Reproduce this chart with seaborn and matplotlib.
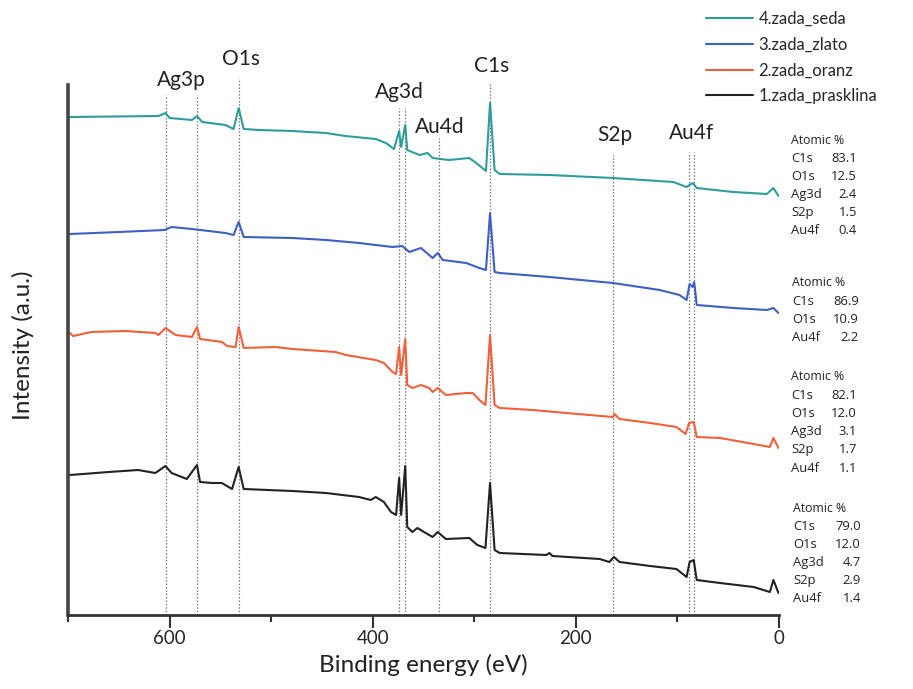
import matplotlib
matplotlib.use("Agg")
import matplotlib.pyplot as plt
import numpy as np
import pandas as pd
import seaborn as sns
from matplotlib.ticker import MultipleLocator

# ---------------- data (binding energy in eV, intensity in a.u.) ----------------
seda_energy = [698, 611, 604, 600, 578, 573, 568, 545, 537, 532, 527, 512, 480, 446, 427, 397,
               387, 379, 374, 372, 368, 366, 354, 346, 341, 325, 305, 298, 288.5, 284.5, 280,
               275, 226, 163.5, 104, 91, 85, 81, 45, 12, 5.5, 0.5]
seda_intensity = [498, 499, 502, 497, 495, 499, 493, 490, 486, 507, 486, 485, 484, 482, 479, 476,
                  472, 466, 484, 468, 490, 465, 460, 462, 457, 455, 457, 452, 444, 512, 445,
                  441, 440, 437, 433, 428, 432, 427, 423, 421, 427, 419]

zlato_energy = [698, 650, 605, 598, 578, 545, 537, 532, 527, 479, 446, 413.5, 380.5, 371, 364,
                352.5, 341, 336, 331, 308, 295, 288.5, 284.5, 280, 275, 226, 163.5, 117.5, 98,
                91, 88, 85, 83.5, 81, 45, 12, 5.5, 0.5]
zlato_intensity = [381, 383, 385, 388, 386, 382, 380, 393, 378, 377, 375, 372, 368, 369, 363,
                   367, 357, 362, 355, 352, 347, 345, 402, 343, 342, 338, 332, 325, 320,
                   315, 331, 328, 333, 310, 307, 305, 307, 302]

oranz_energy = [698, 695, 677, 644, 614, 611, 604, 594, 578, 573, 570, 555, 548.5, 543.5, 535,
                532, 527, 496, 479, 436.5, 426.5, 397, 389, 380.5, 377, 374, 372, 368, 366, 361,
                352.5, 344.5, 341, 336, 328, 308, 301.5, 295, 289, 284.5, 280, 275, 242.5,
                209.5, 163.5, 162, 157, 127, 101, 92, 88.5, 84, 81, 58, 25, 9, 5.5, 0.5]
oranz_intensity = [282, 279, 283, 284, 282, 280, 287, 280, 278, 288, 276, 274, 273, 269, 268,
                   288, 267, 268, 266, 263, 260, 255, 252, 243, 241, 268, 240, 276, 230, 227,
                   230, 227, 223, 227, 220, 222, 222, 215, 210, 280, 210, 207, 205,
                   202, 198, 201, 196, 192, 188, 181, 192, 193, 178, 177, 171, 168, 177, 167]

prasklina_energy = [698, 660, 631, 614, 604, 598, 583, 573, 570, 558, 548.5, 538.5, 532, 527,
                    479, 446, 413.5, 402, 397, 389, 382, 377, 374, 372, 368, 366, 361, 356,
                    344.5, 341, 336, 328, 305, 297, 289, 284.5, 280, 275, 229, 226, 223, 176.5,
                    167, 162.5, 157, 127, 101, 91, 88, 84, 81, 58, 25, 9, 5.5, 0.5]
prasklina_intensity = [140, 143, 145, 142, 149, 142, 136, 150, 133, 132, 132, 126, 148, 126,
                       124, 122, 118, 115, 118, 113, 103, 100, 137, 100, 149, 88, 83, 87,
                       80, 78, 83, 76, 77, 70, 67, 132, 65, 62, 60, 62, 59, 56,
                       53, 58, 53, 49, 46, 38, 53, 55, 35, 32, 28, 23, 35, 22]

sample_names = ["4.zada_seda", "3.zada_zlato", "2.zada_oranz", "1.zada_prasklina"]
sample_colors = ["#2f9e9b", "#3f5fc2", "#f0603a", "#222222"]

peak_labels = ["Ag3p", "O1s", "Ag3d", "Au4d", "C1s", "S2p", "Au4f"]
peak_label_energy = [588, 530, 374, 334, 283, 162, 86]
peak_label_height = [535, 556, 523, 488, 549, 480, 482]
peak_line_energy = [604, 573, 532, 374, 368.5, 335, 284.6, 163, 88.5, 84]
peak_line_top = [520, 520, 537, 507, 507, 477, 532, 460, 463, 463]

atomic_blocks = [
    (["C1s", "O1s", "Ag3d", "S2p", "Au4f"], ["83.1", "12.5", "2.4", "1.5", "0.4"]),
    (["C1s", "O1s", "Au4f"], ["86.9", "10.9", "2.2"]),
    (["C1s", "O1s", "Ag3d", "S2p", "Au4f"], ["82.1", "12.0", "3.1", "1.7", "1.1"]),
    (["C1s", "O1s", "Ag3d", "S2p", "Au4f"], ["79.0", "12.0", "4.7", "2.9", "1.4"]),
]

# ---------------- build table ----------------
frames = []
for name, e, i in [(sample_names[0], seda_energy, seda_intensity),
                   (sample_names[1], zlato_energy, zlato_intensity),
                   (sample_names[2], oranz_energy, oranz_intensity),
                   (sample_names[3], prasklina_energy, prasklina_intensity)]:
    frames.append(pd.DataFrame({"energy": e, "intensity": i, "sample": name}))
df = pd.concat(frames, ignore_index=True)

# ---------------- plot ----------------
sns.set_theme(style="white")
plt.rcParams["font.family"] = ["Lato", "DejaVu Sans"]

W, H = 913, 689
fig = plt.figure(figsize=(W / 100, H / 100), dpi=100)
ax = fig.add_axes([68 / W, 1 - 615 / H, (779 - 68) / W, (615 - 75) / H])

sns.lineplot(data=df, x="energy", y="intensity", hue="sample", hue_order=sample_names,
             palette=sample_colors, estimator=None, sort=False, linewidth=1.5, ax=ax)

for e, top in zip(peak_line_energy, peak_line_top):
    ax.plot([e, e], [0, top], color="#777777", lw=0.9, ls=(0, (1.2, 1.5)),
            zorder=0, clip_on=False)

for lab, e, h in zip(peak_labels, peak_label_energy, peak_label_height):
    ax.text(e, h, lab, ha="center", va="center", fontsize=15, color="#222222",
            clip_on=False)

ax.set_xlim(700, 0)
ax.set_ylim(0, 540)
ax.set_yticks([])
ax.xaxis.set_major_locator(MultipleLocator(200))
ax.xaxis.set_minor_locator(MultipleLocator(100))
ax.tick_params(axis="x", which="major", direction="out", length=9, width=1.5,
               color="#333333", labelsize=13.5, pad=2, bottom=True)
ax.tick_params(axis="x", which="minor", direction="out", length=5, width=1.5,
               color="#333333", bottom=True)
for s in ["top", "right"]:
    ax.spines[s].set_visible(False)
ax.spines["left"].set_linewidth(2.6)
ax.spines["left"].set_color("#444444")
ax.spines["left"].set_bounds(0, 530)
ax.spines["bottom"].set_linewidth(2.0)
ax.spines["bottom"].set_color("#333333")

ax.set_xlabel("Binding energy (eV)", fontsize=17.5, color="#222222")
ax.set_ylabel("Intensity (a.u.)", fontsize=17.5, color="#222222")
ax.xaxis.set_label_coords(0.5, (615 - 654) / 540)
ax.yaxis.set_label_coords((34 - 68) / 711, 0.5)

handles, labels = ax.get_legend_handles_labels()
ax.get_legend().remove()
fig.legend(handles, labels, loc="upper left", bbox_to_anchor=(706 / W, 1 - 11 / H),
           frameon=False, fontsize=12, handlelength=2.8, handletextpad=0.35,
           labelspacing=0.58, borderpad=0, borderaxespad=0)

# atomic % blocks
block_tops = [140, 283, 377, 508]
block_x = [791, 792, 791, 793]
block_vx = [857, 859, 857, 861]
narrow = ["Liberation Sans Narrow", "Open Sans", "DejaVu Sans"]
for (names, vals), top, x0, vx in zip(atomic_blocks, block_tops, block_x, block_vx):
    fig.text(x0 / W, 1 - top / H, "Atomic %", fontsize=8.8, va="center", ha="left",
             family=narrow, color="#222222")
    for k, (n, v) in enumerate(zip(names, vals)):
        y = top + 18.2 * (k + 1)
        fig.text(x0 / W, 1 - y / H, n, fontsize=9.4, va="center", ha="left",
                 family=narrow, color="#222222")
        fig.text(vx / W, 1 - y / H, v, fontsize=9.4, va="center", ha="right",
                 family=narrow, color="#222222")

fig.savefig("out.png", dpi=100)
